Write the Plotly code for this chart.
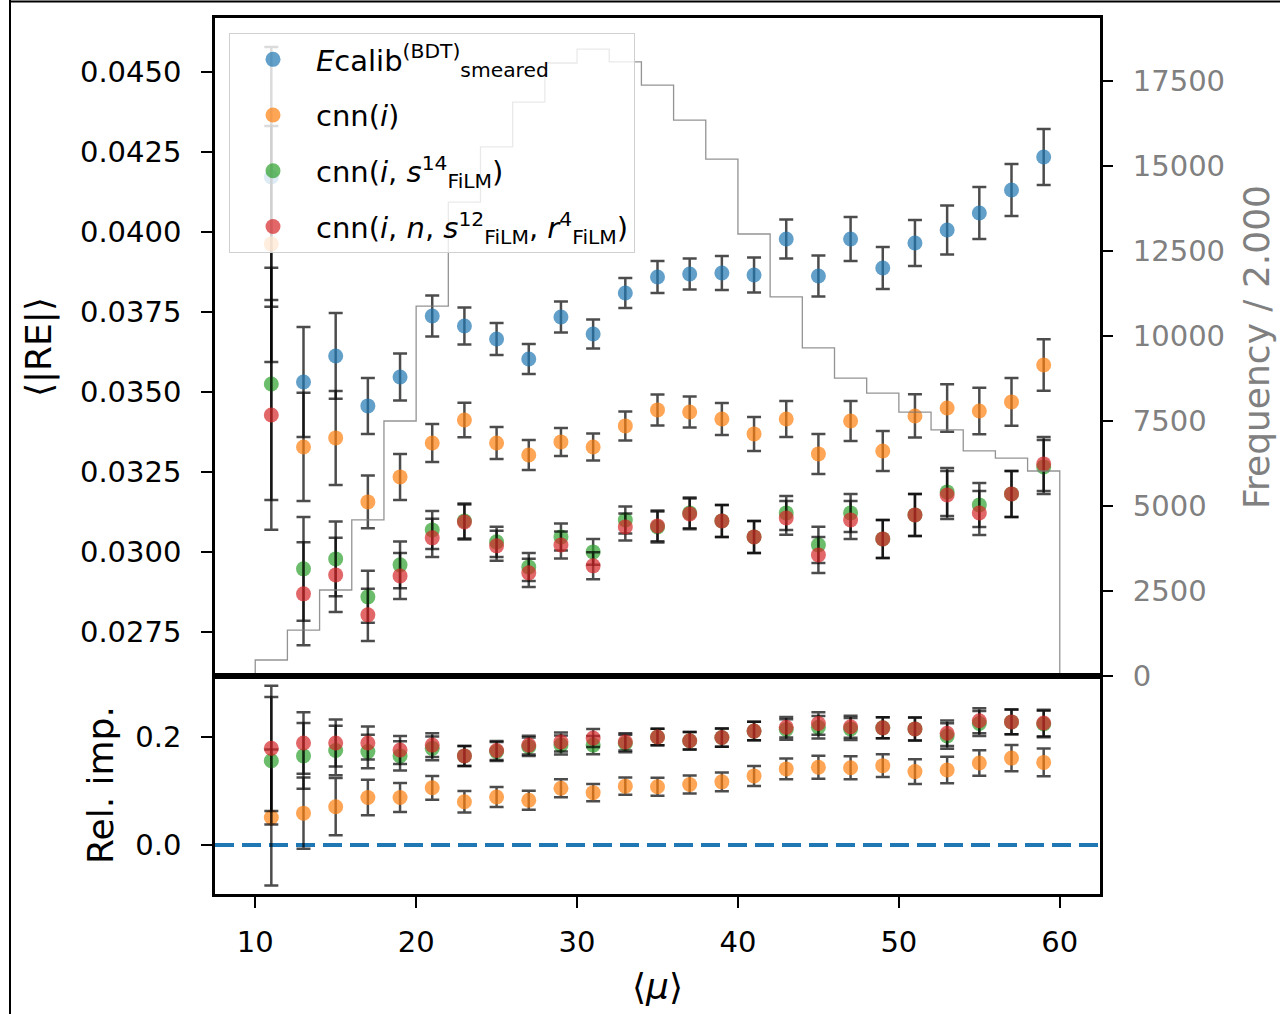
import plotly.graph_objects as go

# ---------------- data ----------------
mu = [11, 13, 15, 17, 19, 21, 23, 25, 27, 29, 31, 33, 35, 37, 39, 41, 43, 45, 47, 49, 51, 53, 55, 57, 59]

ecalib = [0.04172, 0.035313, 0.036125, 0.034563, 0.035469, 0.037375, 0.037063, 0.036656, 0.036031, 0.037344,
          0.036813, 0.038094, 0.038594, 0.038688, 0.038719, 0.038656, 0.039781, 0.038625, 0.039781, 0.038875,
          0.039656, 0.040063, 0.040594, 0.041313, 0.042344]
ecalib_err = [0.00406, 0.00172, 0.00134, 0.000875, 0.000734, 0.000641, 0.000578, 0.0005, 0.000469, 0.000484,
              0.000453, 0.000469, 0.0005, 0.000484, 0.000531, 0.000547, 0.000609, 0.000641, 0.000688, 0.000656,
              0.000719, 0.000766, 0.000813, 0.000813, 0.000875]

cnn_i = [0.039625, 0.033281, 0.033563, 0.031563, 0.032344, 0.033406, 0.034125, 0.033406, 0.033031, 0.033438,
         0.033281, 0.033938, 0.034438, 0.034375, 0.034156, 0.033688, 0.034156, 0.033063, 0.034094, 0.033156,
         0.034250, 0.034500, 0.034406, 0.034688, 0.035844]
cnn_i_err = [0.00369, 0.00169, 0.00147, 0.000828, 0.000719, 0.000594, 0.000541, 0.0005, 0.000469, 0.000438,
             0.000422, 0.000453, 0.000484, 0.000484, 0.0005, 0.000531, 0.000563, 0.000625, 0.000625, 0.000625,
             0.000678, 0.000741, 0.000728, 0.000744, 0.000803]

cnn_s = [0.03525, 0.029469, 0.029781, 0.028594, 0.029594, 0.030688, 0.030969, 0.030313, 0.029531, 0.030469,
         0.030, 0.031, 0.030781, 0.031219, 0.030969, 0.030469, 0.031219, 0.030219, 0.031219, 0.030406,
         0.031156, 0.031875, 0.031469, 0.031813, 0.032656]
cnn_s_err = [0.00363, 0.001625, 0.00117, 0.000813, 0.000734, 0.000594, 0.000547, 0.000469, 0.000438, 0.000422,
             0.000406, 0.000422, 0.000484, 0.000484, 0.0005, 0.0005, 0.000531, 0.000563, 0.000594, 0.000594,
             0.000656, 0.00075, 0.000688, 0.000719, 0.000844]

cnn_nsr = [0.034281, 0.028688, 0.029281, 0.028031, 0.02925, 0.030438, 0.030938, 0.030188, 0.029344, 0.030219,
           0.029563, 0.030781, 0.030813, 0.031188, 0.030969, 0.030469, 0.031063, 0.029906, 0.031, 0.030406,
           0.031156, 0.031781, 0.031219, 0.031813, 0.03275]
cnn_nsr_err = [0.00359, 0.00161, 0.00116, 0.000813, 0.000719, 0.000594, 0.000547, 0.000469, 0.000438, 0.000422,
               0.000422, 0.000422, 0.000484, 0.000484, 0.0005, 0.0005, 0.000531, 0.000563, 0.000594, 0.000594,
               0.000656, 0.00075, 0.000688, 0.000719, 0.000844]

# relative improvement (lower panel)
rel_i = [0.051, 0.059, 0.071, 0.088, 0.088, 0.106, 0.080, 0.089, 0.083, 0.105, 0.097, 0.109, 0.108, 0.112,
         0.117, 0.128, 0.141, 0.144, 0.143, 0.147, 0.136, 0.139, 0.152, 0.161, 0.153]
rel_i_err = [0.126, 0.066, 0.053, 0.033, 0.027, 0.022, 0.020, 0.0185, 0.0176, 0.0167, 0.0161, 0.0161, 0.0167,
             0.0167, 0.0172, 0.0185, 0.0191, 0.0213, 0.0213, 0.0209, 0.0228, 0.0246, 0.0237, 0.0244, 0.0256]
rel_s = [0.156, 0.165, 0.175, 0.173, 0.165, 0.179, 0.165, 0.173, 0.182, 0.185, 0.185, 0.188, 0.200, 0.193,
         0.199, 0.211, 0.214, 0.218, 0.215, 0.217, 0.215, 0.202, 0.225, 0.228, 0.224]
rel_s_err = [0.118, 0.061, 0.046, 0.031, 0.027, 0.022, 0.0185, 0.0176, 0.0172, 0.0176, 0.0167, 0.0161, 0.0154,
             0.0161, 0.017, 0.0172, 0.0191, 0.0209, 0.0204, 0.0194, 0.0213, 0.0237, 0.0231, 0.0231, 0.0246]
rel_nsr = [0.179, 0.189, 0.189, 0.189, 0.176, 0.185, 0.165, 0.175, 0.185, 0.191, 0.198, 0.191, 0.200, 0.193,
           0.199, 0.211, 0.218, 0.225, 0.219, 0.217, 0.215, 0.207, 0.230, 0.228, 0.226]
rel_nsr_err = [0.116, 0.057, 0.0435, 0.0306, 0.026, 0.022, 0.0185, 0.0176, 0.0172, 0.0176, 0.0167, 0.0161,
               0.0154, 0.0161, 0.017, 0.0172, 0.0191, 0.0209, 0.0204, 0.0194, 0.0213, 0.0237, 0.0231, 0.0231,
               0.0246]

# histogram of <mu> (bins of width 2 from 10 to 60)
bin_edges = [10, 12, 14, 16, 18, 20, 22, 24, 26, 28, 30, 32, 34, 36, 38, 40, 42, 44, 46, 48, 50, 52, 54, 56, 58, 60]
hist_counts = [470, 1350, 2530, 4590, 7500, 10880, 13940, 15560, 16880, 18030, 18440, 18060, 17380, 16350,
               15200, 13000, 11150, 9650, 8760, 8320, 7760, 7240, 6620, 6410, 6030]

names = [
    "<i>E</i>calib<sup>(BDT)</sup><sub>smeared</sub>",
    "cnn(<i>i</i>)",
    "cnn(<i>i</i>, <i>s</i><sup>14</sup><sub>FiLM</sub>)",
    "cnn(<i>i</i>, <i>n</i>, <i>s</i><sup>12</sup><sub>FiLM</sub>, <i>r</i><sup>4</sup><sub>FiLM</sub>)",
]
colors = ["#1f77b4", "#ff7f0e", "#2ca02c", "#d62728"]

# ---------------- figure ----------------
W, H = 1280, 1014
FONT = "DejaVu Sans"
ERRC = "rgba(0,0,0,0.7)"
MS = 15

fig = go.Figure()

# histogram as a step line on the secondary axis
hx = [bin_edges[0]] + bin_edges[:-1] + [bin_edges[-1]]
hy = [0] + hist_counts + [0]
fig.add_trace(go.Scatter(x=hx, y=hy, mode="lines", line=dict(shape="hv", color="rgba(120,120,120,0.8)", width=1.3),
                         xaxis="x", yaxis="y2", showlegend=False, hoverinfo="skip"))

top_series = [(ecalib, ecalib_err), (cnn_i, cnn_i_err), (cnn_s, cnn_s_err), (cnn_nsr, cnn_nsr_err)]
for k, (vals, errs) in enumerate(top_series):
    fig.add_trace(go.Scatter(
        x=mu, y=vals, mode="markers", name=names[k], legendgroup=f"g{k}",
        marker=dict(color=colors[k], size=MS, opacity=0.7, line=dict(width=0)),
        error_y=dict(type="data", array=errs, visible=True, color=ERRC, thickness=2.5, width=7),
        xaxis="x", yaxis="y"))

bottom_series = [(rel_i, rel_i_err, 1), (rel_s, rel_s_err, 2), (rel_nsr, rel_nsr_err, 3)]
for vals, errs, k in bottom_series:
    fig.add_trace(go.Scatter(
        x=mu, y=vals, mode="markers", showlegend=False, legendgroup=f"g{k}",
        marker=dict(color=colors[k], size=MS, opacity=0.7, line=dict(width=0)),
        error_y=dict(type="data", array=errs, visible=True, color=ERRC, thickness=2.5, width=7),
        xaxis="x2", yaxis="y3"))

x0p, x1p = 215 / W, 1100 / W
top_dom = [1 - 676 / H, 1 - 18 / H]
bot_dom = [1 - 894 / H, 1 - 676 / H]

tickfont = dict(family=FONT, size=29, color="black")
titlefont = dict(family=FONT, size=36, color="black")
axis_common = dict(showgrid=False, zeroline=False, showline=True, linecolor="black", linewidth=2.5,
                   mirror=True, ticks="outside", ticklen=11, tickwidth=1.8, tickcolor="black",
                   automargin=False)

fig.update_layout(
    width=W, height=H,
    margin=dict(l=0, r=0, t=0, b=0),
    paper_bgcolor="white", plot_bgcolor="white",
    font=dict(family=FONT, size=29, color="black"),
    showlegend=True,
    legend=dict(x=229 / W, y=1 - 33 / H, xanchor="left", yanchor="top",
                bgcolor="rgba(255,255,255,0.8)", bordercolor="#d0d0d0", borderwidth=1,
                font=dict(family=FONT, size=29, color="black"), tracegroupgap=15,
                itemwidth=76),
    xaxis=dict(domain=[x0p, x1p], anchor="y", range=[7.5, 62.5], showticklabels=False,
               ticks="", matches="x2", **{k: v for k, v in axis_common.items() if k != "ticks"}),
    yaxis=dict(domain=top_dom, anchor="x", range=[0.02612, 0.04669], tickvals=[0.0275, 0.03, 0.0325, 0.035,
               0.0375, 0.04, 0.0425, 0.045], tickformat=".4f", tickfont=tickfont, ticklabelstandoff=14,
               title=dict(text="⟨|RE|⟩", font=titlefont, standoff=18), **axis_common),
    yaxis2=dict(overlaying="y", side="right", anchor="x", range=[0, 19353], showgrid=False, zeroline=False,
                showline=False, ticks="outside", ticklen=12, tickwidth=1.8, tickcolor="black",
                tickvals=[0, 2500, 5000, 7500, 10000, 12500, 15000, 17500], tickformat="d",
                ticklabelstandoff=14,
                tickfont=dict(family=FONT, size=29, color="#808080"), automargin=False,
                title=dict(text="Frequency / 2.000", font=dict(family=FONT, size=36, color="#808080"),
                           standoff=19)),
    xaxis2=dict(domain=[x0p, x1p], anchor="y3", range=[7.5, 62.5], tickvals=[10, 20, 30, 40, 50, 60],
                tickfont=tickfont, ticklabelstandoff=9,
                title=dict(text="⟨<i>μ</i>⟩", font=titlefont, standoff=17), **axis_common),
    yaxis3=dict(domain=bot_dom, anchor="x2", range=[-0.0907, 0.313], tickvals=[0.0, 0.2], tickformat=".1f",
                tickfont=tickfont, ticklabelstandoff=14,
                title=dict(text="Rel. imp.", font=titlefont, standoff=11), **axis_common),
    shapes=[
        dict(type="line", xref="x2 domain", yref="y3", x0=0, x1=1, y0=0, y1=0,
             line=dict(color="#1f77b4", width=4, dash="19px,8px"), layer="below"),
        dict(type="line", xref="paper", yref="paper", x0=10 / W, x1=10 / W, y0=0, y1=1,
             line=dict(color="black", width=2)),
        dict(type="line", xref="paper", yref="paper", x0=10 / W, x1=1, y0=1 - 1.5 / H, y1=1 - 1.5 / H,
             line=dict(color="black", width=2)),
    ],
)

fig.write_html("out.html", config={"displayModeBar": False},
               post_script="document.body.style.margin='0px';document.body.style.overflow='hidden';")
